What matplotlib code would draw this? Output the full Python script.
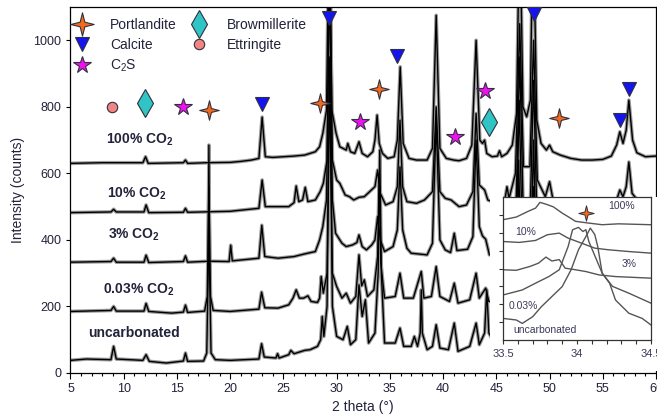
import matplotlib
matplotlib.use('Agg')
import matplotlib.pyplot as plt
from matplotlib.path import Path
from matplotlib.patches import Rectangle
from matplotlib.lines import Line2D

plt.rcParams['font.family'] = ['Liberation Sans', 'DejaVu Sans']
plt.rcParams['mathtext.fontset'] = 'custom'
plt.rcParams['mathtext.rm'] = 'Liberation Sans'
plt.rcParams['mathtext.bf'] = 'Liberation Sans:bold'
plt.rcParams['mathtext.it'] = 'Liberation Sans:italic'

# XRD patterns: (2 theta, counts) vertices
uncarb = [(5.0, 38), (6.5, 42), (8.8, 40), (9.05, 80), (9.3, 42), (11.8, 38), (12.1, 55), (12.4, 35),
          (14.0, 30), (15.6, 36), (15.8, 60), (16.0, 35), (17.5, 36), (17.8, 60), (17.93, 300), (18.0, 685),
          (18.07, 300), (18.2, 60), (18.6, 40), (20.0, 38), (22.7, 42), (22.95, 88), (23.2, 48), (24.3, 45),
          (24.45, 58), (24.6, 45), (25.5, 55), (25.7, 68), (26.0, 58), (27.0, 68), (27.5, 70), (28.2, 80),
          (28.5, 100), (28.65, 170), (28.8, 110), (29.1, 200), (29.35, 950), (29.6, 200), (30.0, 110),
          (30.6, 100), (31.0, 140), (31.3, 85), (31.8, 100), (32.1, 265), (32.4, 170), (32.7, 220), (33.0, 90),
          (33.6, 120), (33.9, 300), (34.05, 670), (34.2, 300), (34.5, 90), (35.5, 90), (35.95, 135), (36.3, 80),
          (37.0, 80), (37.3, 110), (37.6, 80), (37.85, 120), (37.95, 250), (38.05, 120), (38.5, 70), (39.0, 80),
          (39.35, 145), (39.7, 75), (40.5, 70), (41.05, 150), (41.4, 65), (42.5, 80), (43.1, 150), (43.4, 85),
          (43.9, 120), (44.1, 250), (44.3, 120), (45.0, 80), (46.5, 90), (46.8, 150), (47.1, 640), (47.4, 150),
          (48.2, 120), (48.5, 560), (48.8, 120), (50.0, 80), (50.8, 150), (51.2, 80), (54.0, 70), (57.4, 140),
          (60.0, 70)]
co2_003 = [(5.0, 185), (8.8, 188), (9.05, 200), (9.3, 186), (11.9, 186), (12.1, 209), (12.35, 185), (14.5, 180),
           (15.6, 183), (15.8, 204), (16.0, 182), (17.6, 186), (17.85, 230), (18.0, 560), (18.15, 230),
           (18.4, 188), (20.0, 185), (22.7, 192), (22.95, 243), (23.25, 196), (24.5, 195), (25.5, 205),
           (25.9, 225), (26.2, 250), (26.5, 225), (26.9, 225), (27.3, 232), (27.6, 215), (28.2, 212), (28.4, 225),
           (28.55, 290), (28.75, 240), (29.1, 300), (29.35, 900), (29.6, 300), (30.0, 260), (30.5, 225),
           (30.9, 240), (31.3, 210), (31.8, 230), (32.1, 355), (32.35, 262), (32.6, 280), (32.9, 230), (33.5, 250),
           (33.85, 350), (34.0, 600), (34.15, 330), (34.5, 225), (35.5, 230), (35.95, 300), (36.3, 225),
           (37.2, 225), (37.95, 305), (38.2, 225), (38.9, 230), (39.35, 320), (39.7, 230), (40.6, 215),
           (41.05, 270), (41.4, 210), (42.5, 220), (43.1, 300), (43.4, 225), (44.0, 255), (44.3, 215), (45.5, 215),
           (46.8, 300), (47.15, 820), (47.5, 300), (48.2, 300), (48.5, 700), (48.8, 260), (50.0, 230), (56.0, 230),
           (57.4, 300), (60.0, 220)]
co2_3 = [(5.0, 333), (8.8, 335), (9.05, 345), (9.3, 333), (11.9, 333), (12.1, 354), (12.35, 332), (15.6, 335),
         (15.8, 352), (16.0, 333), (18.0, 336), (19.9, 335), (20.05, 384), (20.2, 337), (22.7, 345), (22.97, 444),
         (23.25, 350), (24.5, 345), (26.0, 350), (27.0, 358), (28.0, 365), (28.4, 400), (28.7, 440), (29.05, 520),
         (29.35, 1200), (29.6, 520), (29.9, 420), (30.5, 390), (30.9, 380), (31.5, 385), (31.9, 392), (32.1, 415),
         (32.4, 380), (32.8, 370), (33.3, 385), (33.6, 400), (33.85, 470), (34.1, 400), (34.5, 365), (35.3, 380),
         (35.7, 430), (35.95, 620), (36.2, 430), (36.6, 375), (37.0, 360), (38.5, 355), (39.0, 390),
         (39.35, 760), (39.7, 400), (40.2, 370), (40.7, 362), (41.05, 420), (41.3, 368), (42.3, 372), (42.8, 410),
         (43.1, 700), (43.4, 440), (43.7, 412), (44.0, 402), (44.35, 355), (45.5, 360), (46.8, 430), (47.2, 950),
         (47.55, 450), (48.15, 450), (48.5, 880), (48.85, 420), (50.0, 380), (56.0, 370), (57.45, 470),
         (60.0, 360)]
co2_10 = [(5.0, 482), (8.8, 484), (9.05, 492), (9.3, 484), (11.9, 484), (12.1, 505), (12.35, 482), (15.6, 483),
          (15.8, 495), (16.0, 483), (20.0, 486), (22.7, 495), (23.0, 580), (23.3, 500), (25.5, 500), (26.0, 512),
          (26.2, 562), (26.45, 515), (26.8, 520), (27.05, 558), (27.3, 515), (28.0, 520), (28.45, 545),
          (28.75, 570), (29.1, 640), (29.35, 1300), (29.6, 640), (30.0, 580), (30.3, 570), (30.8, 535),
          (31.2, 530), (31.6, 520), (32.1, 528), (32.6, 530), (33.1, 545), (33.6, 560), (33.85, 610), (34.1, 540),
          (34.6, 505), (35.3, 515), (35.7, 560), (35.95, 760), (36.2, 560), (36.6, 515), (37.5, 510),
          (38.25, 520), (39.0, 545), (39.35, 800), (39.7, 545), (40.2, 525), (40.75, 520), (41.5, 500),
          (42.2, 505), (42.8, 545), (43.1, 780), (43.4, 565), (43.9, 550), (44.2, 520), (45.0, 510), (45.8, 520),
          (46.0, 560), (46.2, 525), (46.8, 600), (47.2, 1050), (47.55, 620), (48.15, 620), (48.5, 1000),
          (48.85, 580), (49.6, 530), (50.0, 575), (50.3, 525), (52.0, 510), (56.3, 520), (56.6, 550), (56.9, 530),
          (57.2, 560), (57.45, 634), (57.75, 540), (58.5, 510), (60.0, 505)]
co2_100 = [(5.0, 630), (8.0, 632), (11.8, 632), (12.05, 650), (12.3, 630), (15.6, 632), (15.8, 640), (16.0, 630),
           (17.8, 632), (20.0, 633), (21.0, 636), (22.0, 640), (22.7, 645), (23.0, 769), (23.3, 650), (24.0, 648),
           (25.0, 650), (26.0, 652), (27.0, 655), (28.0, 665), (28.4, 680), (28.7, 720), (29.05, 790),
           (29.3, 1400), (29.55, 790), (29.95, 720), (30.3, 680), (30.9, 670), (31.05, 690), (31.3, 665),
           (31.7, 660), (32.1, 695), (32.4, 660), (32.9, 650), (33.4, 665), (33.6, 700), (33.8, 775), (34.0, 690),
           (34.3, 660), (34.8, 645), (35.4, 650), (35.7, 700), (35.97, 920), (36.25, 690), (36.8, 645),
           (37.5, 640), (38.5, 640), (39.0, 675), (39.35, 1075), (39.7, 675), (40.3, 645), (41.0, 640),
           (41.5, 638), (42.2, 645), (42.7, 685), (43.1, 1000), (43.45, 700), (43.7, 690), (43.9, 700),
           (44.1, 660), (44.6, 650), (45.1, 652), (45.3, 668), (45.5, 650), (46.0, 660), (46.5, 685), (46.9, 780),
           (47.2, 1400), (47.5, 800), (47.85, 770), (48.2, 820), (48.45, 1400), (48.8, 760), (49.2, 690),
           (49.7, 670), (50.0, 685), (50.3, 665), (51.0, 655), (52.0, 645), (53.0, 640), (54.0, 640), (55.0, 642),
           (55.8, 652), (56.3, 685), (56.6, 725), (56.9, 690), (57.2, 730), (57.45, 820), (57.8, 700),
           (58.2, 662), (59.0, 650), (60.0, 652)]
patterns = [uncarb, co2_003, co2_3, co2_10, co2_100]

pattern_labels = ['uncarbonated', r'0.03% CO$_\mathbf{2}$', r'3% CO$_\mathbf{2}$',
                  r'10% CO$_\mathbf{2}$', r'100% CO$_\mathbf{2}$']
label_x = [6.65, 8.05, 8.5, 8.4, 8.3]
label_y = [120, 249, 414, 540, 700]

# phase markers (2 theta, counts)
portlandite_x = [18.0, 28.4, 34.0, 50.9]
portlandite_y = [790, 811, 853, 766]
calcite_x = [23.0, 29.25, 35.7, 48.5, 56.6, 57.5]
calcite_y = [808, 1066, 952, 1078, 760, 853]
c2s_x = [15.55, 32.15, 41.15, 43.95]
c2s_y = [799, 754, 709, 847]
brownm_x = [12.0, 44.35]
brownm_y = [811, 754]
ettr_x = [8.9]
ettr_y = [799]

# inset: 33.5-34.5 zoom, arbitrary offset units
in_unc = [(33.5, 1.21), (33.59, 1.12), (33.63, 0.93), (33.7, 1.3), (33.76, 1.87), (33.83, 2.43), (33.9, 2.99),
          (33.96, 3.93), (34.01, 5.05), (34.06, 5.79), (34.09, 6.26), (34.12, 5.9), (34.14, 5.23), (34.17, 3.74),
          (34.22, 3.18), (34.26, 2.24), (34.35, 1.5), (34.44, 1.21), (34.5, 0.84)]
in_003 = [(33.5, 2.52), (33.63, 2.8), (33.72, 3.18), (33.81, 3.55), (33.88, 3.93), (33.94, 5.23), (33.97, 6.17),
          (34.01, 6.3), (34.04, 6.07), (34.06, 6.17), (34.08, 5.51), (34.17, 3.74), (34.24, 3.0), (34.35, 2.62),
          (34.5, 2.06)]
in_3 = [(33.5, 3.93), (33.59, 3.9), (33.68, 4.11), (33.74, 4.3), (33.79, 4.64), (33.83, 4.42), (33.88, 4.5),
        (33.92, 4.02), (33.99, 3.93), (34.06, 3.83), (34.15, 3.64), (34.26, 3.55), (34.5, 3.46)]
in_10 = [(33.5, 5.51), (33.61, 5.46), (33.72, 5.57), (33.8, 5.89), (33.88, 5.98), (33.94, 5.7), (34.03, 5.42),
         (34.12, 5.14), (34.21, 5.05), (34.35, 4.95), (34.5, 4.86)]
in_100 = [(33.5, 6.73), (33.59, 6.88), (33.67, 7.2), (33.72, 7.38), (33.75, 7.7), (33.79, 7.6), (33.84, 7.45),
          (33.9, 7.1), (33.94, 6.9), (33.99, 6.64), (34.08, 6.54), (34.17, 6.45), (34.28, 6.5), (34.5, 6.45)]
inset_curves = [in_unc, in_003, in_3, in_10, in_100]
inset_labels = ['uncarbonated', '0.03%', '3%', '10%', '100%']
inset_label_x = [33.57, 33.54, 34.3, 33.58, 34.21]
inset_label_y = [0.56, 1.9, 4.26, 6.02, 7.48]

TXT = '#22223a'

# four pointed star for portlandite
star4 = Path([(0, 1), (0.2, 0.2), (1, 0), (0.2, -0.2), (0, -1), (-0.2, -0.2), (-1, 0), (-0.2, 0.2), (0, 1)],
             closed=True)

styles = {
    'Portlandite': dict(marker=star4, color='#F26B1D', ms=14),
    'Calcite': dict(marker='v', color='#1414F0', ms=10),
    'C$_2$S': dict(marker='*', color='#F010F0', ms=13),
    'Browmillerite': dict(marker='d', color='#30C4C4', ms=14),
    'Ettringite': dict(marker='o', color='#F28482', ms=7.5),
}

fig = plt.figure(figsize=(6.57, 4.19), dpi=100)
ax = fig.add_axes([0.1073, 0.1098, 0.8912, 0.8735])

for pat in patterns:
    xs = [p[0] for p in pat]
    ys = [p[1] for p in pat]
    ax.plot(xs, ys, color='#9a9a9a', lw=2.6, zorder=2, solid_joinstyle='round')
    ax.plot(xs, ys, color='black', lw=1.0, zorder=3)

for name, xs, ys in [('Portlandite', portlandite_x, portlandite_y), ('Calcite', calcite_x, calcite_y),
                     ('C$_2$S', c2s_x, c2s_y), ('Browmillerite', brownm_x, brownm_y),
                     ('Ettringite', ettr_x, ettr_y)]:
    st = styles[name]
    ax.plot(xs, ys, ls='none', marker=st['marker'], ms=st['ms'], mfc=st['color'], mec='#303040',
            mew=0.8, zorder=5, clip_on=False)

for lab, x, y in zip(pattern_labels, label_x, label_y):
    ax.text(x, y, lab, fontsize=10, fontweight='bold', color=TXT, ha='left', va='center')

handles = []
for name in ['Portlandite', 'Calcite', 'C$_2$S', 'Browmillerite', 'Ettringite']:
    st = styles[name]
    ms = st['ms'] * (1.2 if name == 'Portlandite' else 1.0)
    handles.append(Line2D([], [], ls='none', marker=st['marker'], ms=ms, mfc=st['color'],
                          mec='#303040', mew=0.8, label=name))
leg = ax.legend(handles=handles, ncol=2, loc='upper left', bbox_to_anchor=(0, 0.9825), frameon=False,
                fontsize=10, borderaxespad=0, borderpad=0.33, handlelength=1.0, handletextpad=1.5,
                columnspacing=1.1, labelspacing=0.42)
for t in leg.get_texts():
    t.set_color(TXT)

ax.set_xlim(5, 60)
ax.set_ylim(0, 1100)
ax.set_xticks(range(5, 61, 5))
ax.set_xticks(range(5, 61), minor=True)
ax.set_yticks(range(0, 1001, 200))
ax.tick_params(axis='both', labelsize=9, labelcolor=TXT, direction='out', length=4, width=0.8)
ax.tick_params(axis='x', which='minor', direction='out', length=2.5, width=0.8)
ax.tick_params(axis='y', length=3)
ax.set_xlabel('2 theta (\u00b0)', fontsize=10, color=TXT, labelpad=3)
ax.set_ylabel('Intensity (counts)', fontsize=10, color=TXT, labelpad=6)
for sp in ax.spines.values():
    sp.set_linewidth(0.9)

# white block behind the inset
fig.add_artist(Rectangle((0.746, 0.1145), 0.254, 0.4155, transform=fig.transFigure,
                         facecolor='white', edgecolor='none', zorder=1.5))

ins = fig.add_axes([0.7656, 0.1885, 0.2253, 0.3413])
ins.set_zorder(2)
for cur in inset_curves:
    ins.plot([p[0] for p in cur], [p[1] for p in cur], color='#555555', lw=1.0)
ins.plot([34.06], [7.1], ls='none', marker=star4, ms=11, mfc='#F26B1D', mec='#303040', mew=0.7)
for lab, x, y in zip(inset_labels, inset_label_x, inset_label_y):
    ins.text(x, y, lab, fontsize=7.5, color='#3a3a5a', ha='left', va='center')
ins.set_xlim(33.5, 34.5)
ins.set_ylim(0, 8)
ins.set_xticks([33.5, 34.0, 34.5])
ins.set_xticklabels(['33.5', '34', '34.5'])
ins.set_xticks([33.5 + 0.1 * i for i in range(11)], minor=True)
ins.set_yticks(range(1, 8))
ins.set_yticklabels([])
ins.tick_params(axis='both', which='both', direction='out', length=3, width=0.8, labelsize=8,
                labelcolor='#3a3a5a', colors='#333333')
ins.tick_params(axis='x', which='major', labelcolor='#3a3a5a')
for sp in ins.spines.values():
    sp.set_linewidth(0.9)
    sp.set_color('#333333')

fig.savefig('out.png', dpi=100)
